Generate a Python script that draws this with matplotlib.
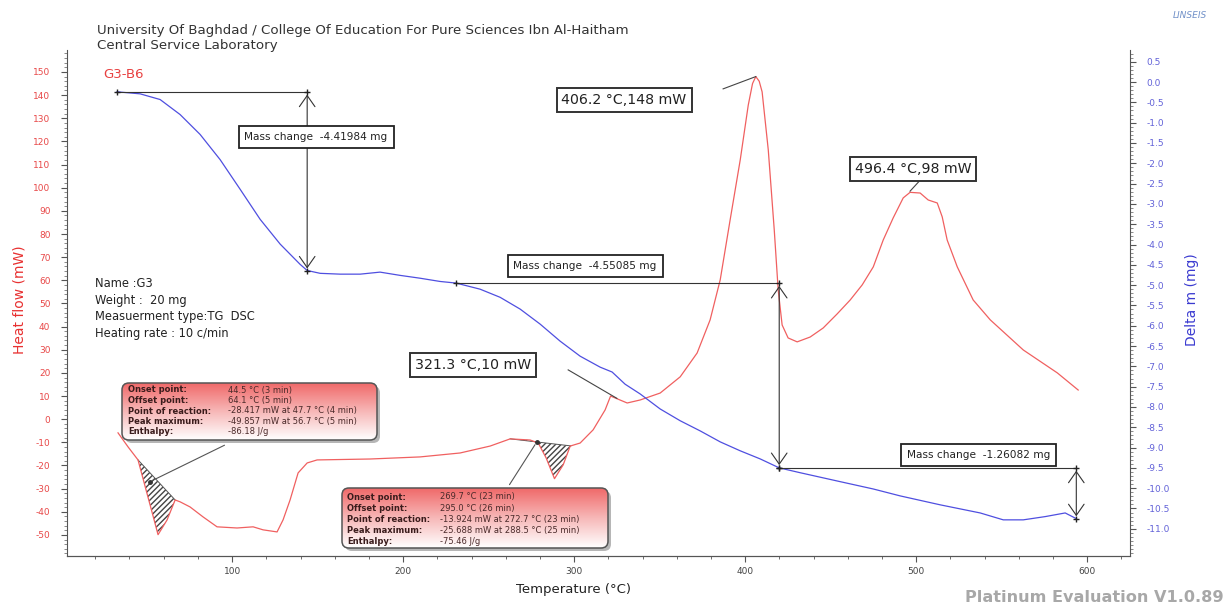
import numpy as np
import matplotlib.pyplot as plt
from matplotlib.patches import FancyBboxPatch
from matplotlib.colors import LinearSegmentedColormap
from matplotlib.ticker import MultipleLocator

plt.rcParams['font.family'] = ['DejaVu Sans']
plt.rcParams['axes.unicode_minus'] = False

# DSC heat flow (mW) vs temperature (C)
dsc_temp = [33.3, 39.2, 45.0, 50.0, 54.0, 56.7, 62.0, 66.7, 69.6, 75.4, 83.0, 91.2,
            102.9, 112.3, 118.1, 126.3, 129.8, 133.9, 138.6, 143.9, 149.7, 180.7,
            209.9, 233.3, 250.9, 262.6, 274.3, 279.0, 283.6, 288.5, 293.6, 297.7,
            303.5, 311.1, 318.1, 321.3, 331.0, 338.6, 350.3, 362.0, 371.9, 379.5,
            385.4, 391.2, 397.1, 401.8, 404.3, 406.2, 408.2, 409.9, 413.5, 417.0, 419.3, 421.6,
            425.1, 430.4, 438.0, 445.6, 453.8, 461.4, 468.4, 474.9, 480.7, 486.5,
            492.4, 496.4, 502.3, 507.0, 512.3, 515.2, 518.1, 524.0, 533.3, 543.3,
            562.6, 582.5, 594.7]
dsc_flow = [-5.9, -12.0, -17.6, -31.4, -42.4, -49.9, -43.5, -34.9, -35.7, -37.9, -42.2, -46.5,
            -47.0, -46.5, -47.8, -48.7, -43.5, -34.9, -23.2, -18.9, -17.6, -17.2,
            -16.3, -14.6, -11.6, -8.5, -9.0, -10.3, -16.7, -25.7, -19.7, -11.6,
            -10.3, -4.6, 4.0, 10.0, 7.0, 8.3, 11.3, 18.3, 28.6, 42.9,
            60.2, 86.1, 112.0, 135.7, 145.0, 148.0, 146.0, 141.4, 116.3, 81.7, 55.8, 40.7,
            35.1, 33.4, 35.5, 39.4, 45.5, 51.5, 58.0, 65.8, 77.4, 86.9,
            95.6, 98.0, 97.7, 94.7, 93.4, 87.4, 77.4, 65.8, 51.5, 42.9,
            29.9, 20.0, 12.6]

# TG mass change (mg) vs temperature (C)
tg_temp = [32.7, 46.2, 57.9, 69.6, 81.3, 93.0, 104.7, 116.4, 128.1, 139.8, 143.9,
           151.5, 163.2, 174.9, 186.5, 198.2, 209.9, 221.6, 231.0, 245.0, 256.7,
           268.4, 280.1, 291.8, 303.5, 315.2, 322.2, 329.8, 338.6, 350.3, 362.0,
           373.7, 385.4, 397.1, 408.8, 419.9, 432.2, 455.6, 474.9, 490.6, 514.0,
           537.4, 550.9, 562.6, 575.4, 587.1, 593.6]
tg_mass = [-0.24, -0.29, -0.43, -0.80, -1.29, -1.91, -2.64, -3.38, -3.99, -4.49, -4.64,
           -4.71, -4.73, -4.73, -4.68, -4.76, -4.83, -4.91, -4.95, -5.10, -5.30,
           -5.59, -5.96, -6.38, -6.75, -7.02, -7.14, -7.44, -7.68, -8.05, -8.34,
           -8.59, -8.86, -9.08, -9.28, -9.50, -9.62, -9.84, -10.02, -10.19, -10.41,
           -10.61, -10.78, -10.78, -10.70, -10.61, -10.75]

# mass loss steps: start temp, end temp, mass change
step_start = [32.7, 231.0, 419.9]
step_end = [143.9, 419.9, 593.6]
step_change = [-4.41984, -4.55085, -1.26082]
step_label_pos = [(149.1, -1.35), (306.4, -4.53), (536.3, -9.19)]

# labelled peaks
peak_temp = [406.2, 496.4, 321.3]
peak_flow = [148, 98, 10]
peak_label_pos = [(329.2, 137.9), (498.2, 108.1), (240.9, 23.4)]
peak_leader_from = [(387.1, 142.7), (502.0, 103.0), (296.5, 21.3)]
peak_leader_to = [(406.2, 148.0), (496.4, 98.5), (325.0, 9.0)]

# integrated endotherms
hatch_ranges = [(45.0, 66.7), (262.6, 298.0)]
peak_tables = [
    [('Onset point:', '44.5 °C (3 min)'),
     ('Offset point:', '64.1 °C (5 min)'),
     ('Point of reaction:', '-28.417 mW at 47.7 °C (4 min)'),
     ('Peak maximum:', '-49.857 mW at 56.7 °C (5 min)'),
     ('Enthalpy:', '-86.18 J/g')],
    [('Onset point:', '269.7 °C (23 min)'),
     ('Offset point:', '295.0 °C (26 min)'),
     ('Point of reaction:', '-13.924 mW at 272.7 °C (23 min)'),
     ('Peak maximum:', '-25.688 mW at 288.5 °C (25 min)'),
     ('Enthalpy:', '-75.46 J/g')],
]

RED = '#f06060'
BLUE = '#4f4fe0'
DARK = '#333333'

fig = plt.figure(figsize=(12.28, 6.05), dpi=100, facecolor='white')
ax = fig.add_axes([0.0546, 0.0810, 0.8656, 0.8364])
ax2 = ax.twinx()

ax.plot(dsc_temp, dsc_flow, color=RED, lw=0.9, zorder=3)
ax2.plot(tg_temp, tg_mass, color=BLUE, lw=0.9, zorder=3)

# hatched peak areas between curve and straight baseline
for t0, t1 in hatch_ranges:
    tt = np.linspace(t0, t1, 60)
    curve = np.interp(tt, dsc_temp, dsc_flow)
    y0 = np.interp(t0, dsc_temp, dsc_flow)
    y1 = np.interp(t1, dsc_temp, dsc_flow)
    base = y0 + (y1 - y0) * (tt - t0) / (t1 - t0)
    ax.fill_between(tt, base, curve, facecolor='none', edgecolor='#444444',
                    hatch='//////', lw=0, zorder=2)
    ax.plot([t0, t1], [y0, y1], color='#555555', lw=0.7, zorder=2)

ax.set_xlim(3.5, 625)
ax.set_ylim(-59.1, 159.5)
ax2.set_ylim(-11.67, 0.79)

for a in (ax, ax2):
    a.spines['top'].set_visible(False)
    for s in a.spines.values():
        s.set_color('#555555')
ax.spines['right'].set_visible(False)
ax2.spines['left'].set_visible(False)

ax.set_xticks(np.arange(100, 601, 100))
ax.xaxis.set_minor_locator(MultipleLocator(20))
ax.set_yticks(np.arange(-50, 151, 10))
ax.yaxis.set_minor_locator(MultipleLocator(2))
ax2.set_yticks(np.arange(-11.0, 0.51, 0.5))
ax2.yaxis.set_minor_locator(MultipleLocator(0.1))
ax2.set_yticklabels(['%.1f' % v for v in np.arange(-11.0, 0.51, 0.5)])

ax.tick_params(axis='x', labelsize=6.5, labelcolor='#444444', color='#555555',
               length=4, pad=4)
ax.tick_params(axis='x', which='minor', length=2.5, color='#555555')
ax.tick_params(axis='y', labelsize=6.5, labelcolor='#e84848', color='#555555',
               length=4, pad=8)
ax.tick_params(axis='y', which='minor', length=2, color='#777777')
ax2.tick_params(axis='y', labelsize=6.5, labelcolor='#6262d8', color='#555555',
                length=4, pad=8)
ax2.tick_params(axis='y', which='minor', length=2, color='#777777')

# mass change arrows
for t0, t1, dm, (lx, ly) in zip(step_start, step_end, step_change, step_label_pos):
    top = np.interp(t0, tg_temp, tg_mass)
    bottom = top + dm
    ax2.plot([t0, t1], [top, top], color=DARK, lw=0.8, zorder=4)
    ax2.annotate('', xy=(t1, top), xytext=(t1, bottom),
                 arrowprops=dict(arrowstyle='<->,head_length=0.5,head_width=0.35',
                                 color=DARK, lw=0.8, mutation_scale=16), zorder=4)
    ax2.plot([t0, t1, t1], [top, top, bottom], '+', color='#222222', ms=5, mew=1,
             zorder=5)
    ax2.text(lx, ly, 'Mass change  %.5f mg' % dm, ha='center', va='center',
             fontsize=7.6, color='#222222', zorder=6,
             bbox=dict(boxstyle='square,pad=0.55', fc='white', ec='#222222', lw=1.3))

# peak value labels
for (lx, ly), p, f, (fx, fy), (tx, ty) in zip(peak_label_pos, peak_temp, peak_flow,
                                              peak_leader_from, peak_leader_to):
    ax.plot([fx, tx], [fy, ty], color='#444444', lw=0.8, zorder=4)
    ax.text(lx, ly, '%.1f °C,%d mW' % (p, f), ha='center', va='center',
            fontsize=10.2, color='#222222', zorder=6,
            bbox=dict(boxstyle='square,pad=0.35', fc='white', ec='#333333', lw=1.4))

ax.text(24.6, 148.7, 'G3-B6', color='#e84040', fontsize=9.5, va='center')
ax.text(19.9, 61.5, 'Name :G3\nWeight :  20 mg\nMeasuerment type:TG  DSC\nHeating rate : 10 c/min',
        fontsize=8.3, color='#222222', va='top', linespacing=1.38)

# result tables for the two endotherms (drawn in pixel space)
ov = fig.add_axes([0, 0, 1, 1], zorder=5)
ov.axis('off')
ov.patch.set_alpha(0)
cmap = LinearSegmentedColormap.from_list('pk', ['#f06a6a', '#f7b8b8', '#ffffff'])
grad = np.linspace(0, 1, 100).reshape(-1, 1)
boxes = [(122, 383, 255, 57, 128, 228, 390), (342, 488, 266, 60, 347, 440, 497)]
for (x0, y0, w, h, lx, vx, ty), rows in zip(boxes, peak_tables):
    shadow = FancyBboxPatch((x0 + 3, y0 + 3), w, h, boxstyle='round,pad=0,rounding_size=7',
                            fc='#7a7a7a', ec='none', alpha=0.55, zorder=1)
    ov.add_patch(shadow)
    frame = FancyBboxPatch((x0, y0), w, h, boxstyle='round,pad=0,rounding_size=7',
                           fc='none', ec='#555555', lw=1.1, zorder=3)
    ov.add_patch(frame)
    im = ov.imshow(grad, extent=(x0, x0 + w, y0 + h, y0), origin='upper',
                   aspect='auto', cmap=cmap, zorder=2)
    im.set_clip_path(frame)
    for i, (lab, val) in enumerate(rows):
        yy = ty + i * (h - 15) / 4.0
        ov.text(lx, yy, lab, fontsize=6.0, fontweight='bold', color='#3a1c1c',
                va='center', zorder=4)
        ov.text(vx, yy, val, fontsize=6.0, color='#4a2a2a', va='center', zorder=4)
ov.set_xlim(0, 1228)
ov.set_ylim(605, 0)

# leaders from tables to the reaction points
ax.annotate('', xy=(52.0, -27.0), xytext=(227, 605 - 444), textcoords='figure pixels',
            arrowprops=dict(arrowstyle='-', color='#555555', lw=0.8))
ax.plot([52.0], [-27.0], 'o', color='#333333', ms=2.5, zorder=5)
ax.annotate('', xy=(278.0, -10.0), xytext=(508, 605 - 487), textcoords='figure pixels',
            arrowprops=dict(arrowstyle='-', color='#555555', lw=0.8))
ax.plot([278.0], [-10.0], 'o', color='#333333', ms=2.5, zorder=5)

fig.text(0.079, 0.9504, 'University Of Baghdad / College Of Education For Pure Sciences Ibn Al-Haitham',
         fontsize=9.6, color='#333333', va='center')
fig.text(0.079, 0.924, 'Central Service Laboratory', fontsize=9.6, color='#333333', va='center')
fig.text(20 / 1228, 0.504, 'Heat flow (mW)', rotation=90, color='#e83030', fontsize=10,
         ha='center', va='center')
fig.text(1192 / 1228, 0.504, 'Delta m (mg)', rotation=90, color='#3a3ad0', fontsize=10,
         ha='center', va='center')
fig.text(574 / 1228, 0.0248, 'Temperature (°C)', ha='center', va='center', fontsize=9.5,
         color='#222222')
fig.text(1224 / 1228, 0.0116, 'Platinum Evaluation V1.0.89', fontsize=11.6, fontweight='bold',
         color='#a8a8a8', va='center', ha='right')
fig.text(1190 / 1228, 1 - 15 / 605, 'LINSEIS', fontsize=6.5, style='italic', color='#7090c8',
         ha='center', va='center')

fig.savefig('out.png', dpi=100, facecolor='white')
